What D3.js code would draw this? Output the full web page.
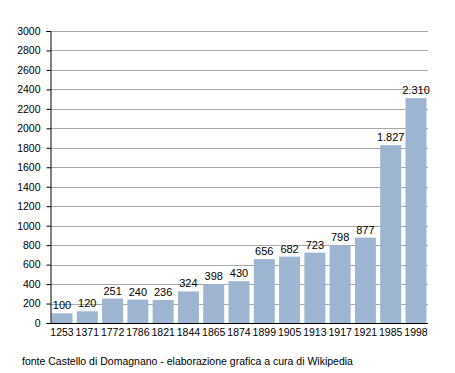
<!DOCTYPE html>
<html>
<head>
<meta charset="utf-8">
<script src="https://cdn.jsdelivr.net/npm/d3@7"></script>
<style>
  body { margin:0; background:#fff; }
  svg { font-family: "Liberation Sans", Arial, sans-serif; }
</style>
</head>
<body>
<div id="chart"></div>
<script>
// data
const years  = ["1253","1371","1772","1786","1821","1844","1865","1874","1899","1905","1913","1917","1921","1985","1998"];
const values = [100, 120, 251, 240, 236, 324, 398, 430, 656, 682, 723, 798, 877, 1827, 2310];
const labels = ["100","120","251","240","236","324","398","430","656","682","723","798","877","1.827","2.310"];
const yTicks = d3.range(0, 3001, 200);
const caption = "fonte Castello di Domagnano - elaborazione grafica a cura di Wikipedia";

const W = 455, H = 373;
const box = {x1:50, x2:428, y1:31, y2:323};

const svg = d3.select("#chart").append("svg")
  .attr("width", W).attr("height", H);

const x = d3.scaleBand().domain(years).range([box.x1, box.x2])
  .paddingInner(0.17).paddingOuter(0.06);
const y = d3.scaleLinear().domain([0, 3000]).range([box.y2, box.y1]);

// grid
svg.append("g").selectAll("line").data(yTicks.slice(1)).join("line")
  .attr("x1", box.x1).attr("x2", box.x2)
  .attr("y1", d => Math.round(y(d)) + 0.5).attr("y2", d => Math.round(y(d)) + 0.5)
  .attr("stroke", "#a8a8a8").attr("stroke-width", 1);

// bars
svg.append("g").selectAll("rect").data(values).join("rect")
  .attr("x", (d, i) => x(years[i]))
  .attr("width", x.bandwidth())
  .attr("y", d => y(d))
  .attr("height", d => y(0) - y(d))
  .attr("fill", "#9db5d0");

// value labels
svg.append("g").selectAll("text").data(values).join("text")
  .attr("x", (d, i) => x(years[i]) + x.bandwidth() / 2)
  .attr("y", d => y(d) - 4)
  .attr("text-anchor", "middle")
  .attr("font-size", 11)
  .attr("fill", "#000")
  .text((d, i) => labels[i]);

// y axis
const yAxis = d3.axisLeft(y).tickValues(yTicks).tickFormat(d3.format("d")).tickSize(4).tickPadding(6);
const gy = svg.append("g").attr("transform", "translate(" + (box.x1 + 0.5) + ",0)").call(yAxis);
gy.select(".domain").attr("stroke", "#000");
gy.selectAll(".tick text").attr("font-size", 10.5).attr("font-family", "Liberation Sans, Arial, sans-serif");

// x axis
const xAxis = d3.axisBottom(x).tickSize(0).tickPadding(5);
const gx = svg.append("g").attr("transform", "translate(0," + (box.y2 + 0.5) + ")").call(xAxis);
gx.select(".domain").attr("d", "M" + box.x1 + ",0H" + box.x2).attr("stroke", "#000");
gx.selectAll(".tick text").attr("font-size", 10.5).attr("font-family", "Liberation Sans, Arial, sans-serif");

svg.append("text")
  .attr("x", 22).attr("y", 365)
  .attr("font-size", 10.5)
  .text(caption);
</script>
</body>
</html>
